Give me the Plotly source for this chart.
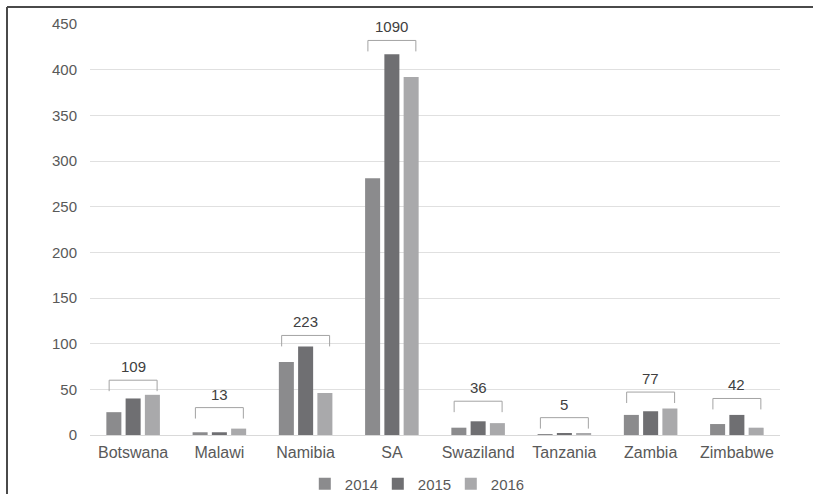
import plotly.graph_objects as go

# Country categories and yearly counts
countries = ["Botswana", "Malawi", "Namibia", "SA", "Swaziland", "Tanzania", "Zambia", "Zimbabwe"]
years = ["2014", "2015", "2016"]
counts_2014 = [25, 3, 80, 281, 8, 1, 22, 12]
counts_2015 = [40, 3, 97, 417, 15, 2, 26, 22]
counts_2016 = [44, 7, 46, 392, 13, 2, 29, 8]
# Height of each total bracket (in axis units)
bracket_levels = [60, 30, 109, 432, 37, 19, 47, 40]
y_ticks = [0, 50, 100, 150, 200, 250, 300, 350, 400, 450]

series = [counts_2014, counts_2015, counts_2016]
colors = ["#8b8b8d", "#6f6f72", "#a9a9ab"]

fig = go.Figure()
for name, vals, col in zip(years, series, colors):
    fig.add_trace(go.Bar(x=countries, y=vals, name=name, marker_color=col,
                         marker_line_width=0))

totals = [sum(v) for v in zip(*series)]

shapes = []
annotations = []
half = 0.278
drop = 12
for i, (tot, lvl) in enumerate(zip(totals, bracket_levels)):
    shapes.append(dict(
        type="path", xref="x", yref="y",
        path=f"M {i-half},{lvl-drop} L {i-half},{lvl} L {i+half},{lvl} L {i+half},{lvl-drop}",
        line=dict(color="#a3a3a3", width=1)))
    annotations.append(dict(x=i, y=lvl, xref="x", yref="y", text=str(tot),
                            showarrow=False, yanchor="bottom", yshift=3,
                            font=dict(size=15, color="#404040")))

# outer frame (top and left edges)
L, R, T, B = 90, 33, 24, 59
W, H = 813 - L - R, 494 - T - B
fx = -(L - 7) / W
fy = 1 + (T - 7) / H
shapes.append(dict(type="line", xref="paper", yref="paper", x0=fx, x1=1 + R / W,
                   y0=fy, y1=fy, line=dict(color="#4a4a4a", width=2)))
shapes.append(dict(type="line", xref="paper", yref="paper", x0=fx, x1=fx,
                   y0=fy, y1=-B / H, line=dict(color="#4a4a4a", width=2)))

fig.update_layout(
    width=813, height=494,
    margin=dict(l=L, r=R, t=T, b=B, autoexpand=False),
    paper_bgcolor="white", plot_bgcolor="white",
    barmode="group", bargap=0.33, bargroupgap=0.22,
    font=dict(family="Liberation Sans, Arial, sans-serif", color="#595959"),
    xaxis=dict(showgrid=False, showline=True, linecolor="#d9d9d9", linewidth=1,
               tickfont=dict(size=16, color="#595959"), ticks="", ticklabelstandoff=3),
    yaxis=dict(range=[0, 450], tickvals=y_ticks, showgrid=True, gridcolor="#e0e0e0",
               gridwidth=1, zeroline=False, tickfont=dict(size=15, color="#595959"),
               ticklabelstandoff=12),
    legend=dict(orientation="h", x=0.47, xanchor="center", y=-0.119, yanchor="middle",
                font=dict(size=15, color="#595959"), itemwidth=30, traceorder="normal",
                entrywidth=28, entrywidthmode="pixels"),
    shapes=shapes, annotations=annotations,
)

fig.write_html("out.html")
